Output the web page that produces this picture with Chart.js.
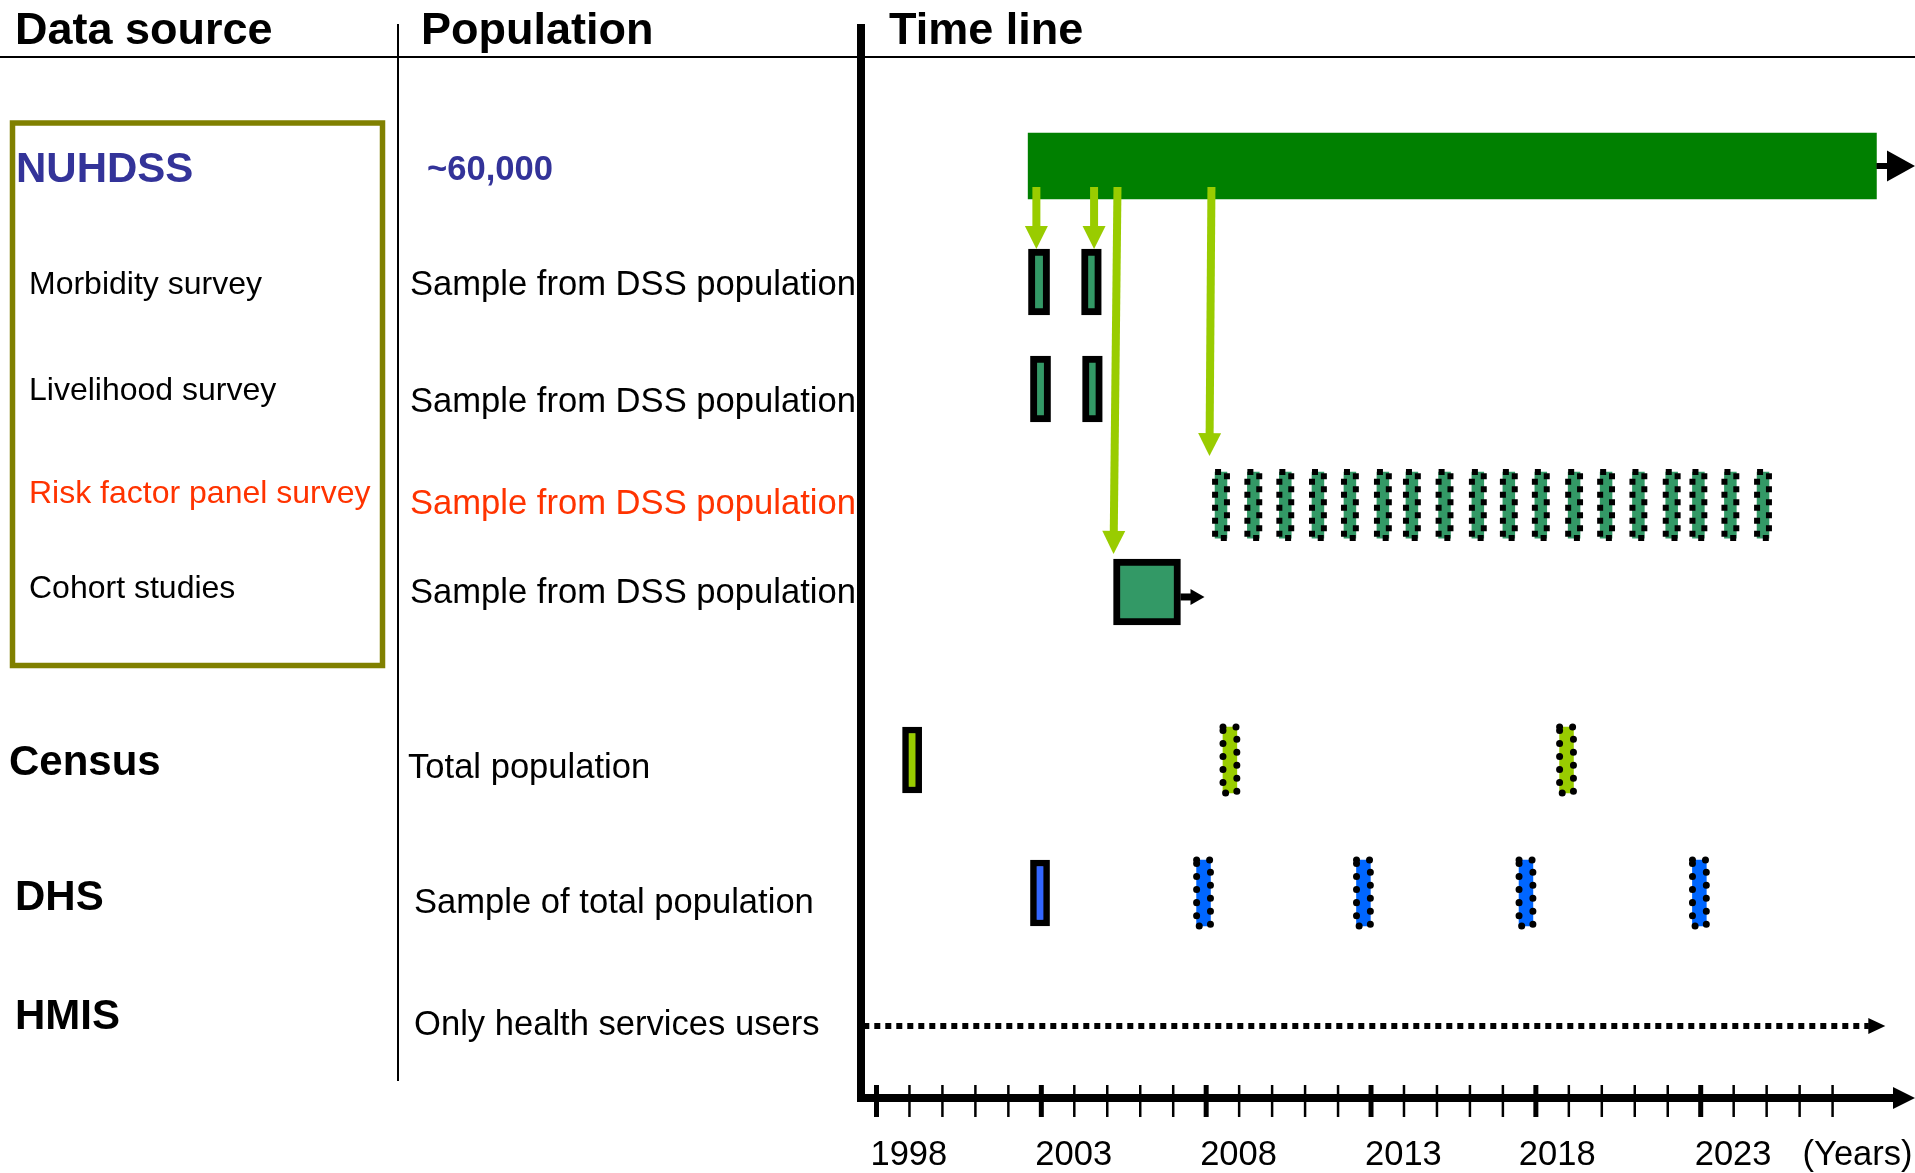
<!DOCTYPE html>
<html lang="en">
<head>
<meta charset="UTF-8">
<title>Data sources time line</title>
<script src="https://cdn.jsdelivr.net/npm/chart.js"></script>
<style>
  body { margin: 0; background: #ffffff; }
  #wrap { position: relative; width: 1915px; height: 1173px; }
</style>
</head>
<body>
<div id="wrap"><canvas id="timeline"></canvas></div>
<script>
// left columns, one entry per row
const sources = ['NUHDSS', 'Morbidity survey', 'Livelihood survey', 'Risk factor panel survey',
  'Cohort studies', 'Census', 'DHS', 'HMIS'];
const populations = ['~60,000', 'Sample from DSS population', 'Sample from DSS population',
  'Sample from DSS population', 'Sample from DSS population', 'Total population',
  'Sample of total population', 'Only health services users'];

// time line (years)
const nuhdssPeriod = [2002.6, 2028.33];
const morbidityRounds = [[2002.61, 2003.25], [2004.22, 2004.82]];
const livelihoodRounds = [[2002.67, 2003.28], [2004.25, 2004.85]];
const riskRounds = [2008.45, 2009.43, 2010.4, 2011.39, 2012.36, 2013.36, 2014.24, 2015.23, 2016.24,
  2017.18, 2018.15, 2019.16, 2020.13, 2021.11, 2022.12, 2022.93, 2023.9, 2024.89];
const cohortPeriod = [2005.19, 2007.22];
const cohortOngoing = 2007.95;
const censusYears = [1999.08, 2008.72, 2018.93];
const dhsYears = [2002.96, 2007.92, 2012.77, 2017.7, 2022.96];
const hmisPeriod = [1997.6, 2028.6];

// arrows from the DSS bar to the studies sampled from it
const linkFrom = [2002.85, 2004.6, 2005.31, 2008.16];
const linkTo = [2002.85, 2004.6, 2005.19, 2008.1];
const linkRow = [1, 1, 4, 3];

// axis
const tickYears = [1998, 2003, 2008, 2013, 2018, 2023];
const firstTick = 1998, lastTick = 2027;

// ---- layout / style ----
const ROW_POS = [1.047, 2.161, 3.189, 4.304, 5.139, 6.753, 8.031, 9.308];
const BAR_H = 66;
const TEXT_DY = 3;
const FONT = '"Liberation Sans", Arial, sans-serif';
const SRC_X = [16, 29, 29, 29, 29, 9, 15, 15];
const SRC_DY = [1, 0, -1, -14, -6, 0, 2, -12];
const SRC_FONT = ['bold 42px', '32px', '32px', '32px', '32px', 'bold 42px', 'bold 42px', 'bold 42px'];
const SRC_COLOR = ['#333399', '#000', '#000', '#FF3300', '#000', '#000', '#000', '#000'];
const POP_X = [427, 410, 410, 410, 410, 408, 414, 414];
const POP_DY = [1, 1, 10, -4, -2, 5, 7, -3];
const POP_FONT = ['bold 34.6px', '34.6px', '34.6px', '34.6px', '34.6px', '34.6px', '34.6px', '34.6px'];
const POP_COLOR = ['#333399', '#000', '#000', '#FF3300', '#000', '#000', '#000', '#000'];
const TICK_LABEL_DX = [-6, -6, -6, -6, -17, -6];
const LINK_GAP = [0, 0, 5, 16];

const span = (a, b, row) => ({ x: [a, b], y: ROW_POS[row] });
const around = (c, half, row) => ({ x: [c - half, c + half], y: ROW_POS[row] });
const boxed = { type: 'bar', indexAxis: 'y', borderColor: '#000', borderWidth: 7, borderSkipped: false };
const plain = { type: 'bar', indexAxis: 'y', borderWidth: 0 };

function arrow(ctx, x0, y0, x1, y1, lw, len, half, color) {
  const d = Math.hypot(x1 - x0, y1 - y0), ux = (x1 - x0) / d, uy = (y1 - y0) / d;
  const bx = x1 - ux * len, by = y1 - uy * len;
  ctx.strokeStyle = color; ctx.fillStyle = color; ctx.lineWidth = lw;
  if (d > len) {
    ctx.beginPath(); ctx.moveTo(x0, y0); ctx.lineTo(bx + ux, by + uy); ctx.stroke();
  }
  ctx.beginPath();
  ctx.moveTo(x1, y1);
  ctx.lineTo(bx - uy * half, by + ux * half);
  ctx.lineTo(bx + uy * half, by - ux * half);
  ctx.closePath(); ctx.fill();
}

const decor = {
  id: 'decor',
  beforeDraw(chart) {
    const { ctx, width, height } = chart;
    ctx.save(); ctx.fillStyle = '#fff'; ctx.fillRect(0, 0, width, height); ctx.restore();
  },
  afterDatasetsDraw(chart) {
    const { ctx, chartArea: area, scales: { x: xs, y: ys } } = chart;
    ctx.save();

    // dotted outlines of planned rounds
    chart.data.datasets.forEach((ds, i) => {
      if (!ds.dots) return;
      chart.getDatasetMeta(i).data.forEach(el => {
        const p = el.getProps(['x', 'y', 'base', 'height'], true);
        const l = Math.min(p.x, p.base), w = Math.abs(p.x - p.base);
        ctx.strokeStyle = '#000';
        if (ds.dots === 'round') { ctx.lineWidth = 7; ctx.lineCap = 'round'; ctx.setLineDash([0.01, 13]); }
        else { ctx.lineWidth = 6; ctx.lineCap = 'butt'; ctx.setLineDash([6, 7]); }
        ctx.strokeRect(l, p.y - p.height / 2, w, p.height);
      });
    });
    ctx.setLineDash([]); ctx.lineCap = 'butt';

    // DSS bar continues, cohort continues
    const dss = chart.getDatasetMeta(0).data[0];
    arrow(ctx, dss.x, dss.y, area.right, dss.y, 6, 28, 15.5, '#000');
    const coh = chart.getDatasetMeta(2).data[0];
    arrow(ctx, coh.x, coh.y + 5, xs.getPixelForValue(cohortOngoing), coh.y + 5, 7, 14, 8, '#000');

    // links
    const yStart = ys.getPixelForValue(ROW_POS[0]) + 21;
    linkFrom.forEach((from, i) => {
      const y1 = ys.getPixelForValue(ROW_POS[linkRow[i]]) - BAR_H / 2 - LINK_GAP[i];
      arrow(ctx, xs.getPixelForValue(from), yStart, xs.getPixelForValue(linkTo[i]), y1, 8, 23, 11.5, '#99CC00');
    });

    // HMIS arrow head
    const yh = ys.getPixelForValue(ROW_POS[7]);
    arrow(ctx, xs.getPixelForValue(hmisPeriod[1] - 0.5), yh, xs.getPixelForValue(hmisPeriod[1]), yh, 6, 17, 8, '#000');

    // time axis
    const axisY = area.bottom;
    ctx.strokeStyle = '#000'; ctx.lineWidth = 8;
    ctx.beginPath(); ctx.moveTo(area.left - 3, axisY); ctx.lineTo(area.right - 20, axisY); ctx.stroke();
    arrow(ctx, area.right - 22, axisY, area.right, axisY, 8, 22, 11, '#000');
    ctx.beginPath(); ctx.moveTo(area.left + 1, 24); ctx.lineTo(area.left + 1, axisY + 4); ctx.stroke();
    for (let yr = firstTick; yr <= lastTick; yr++) {
      const x = xs.getPixelForValue(yr);
      ctx.lineWidth = tickYears.includes(yr) ? 5 : 2.5;
      ctx.beginPath(); ctx.moveTo(x, axisY - 13); ctx.lineTo(x, axisY + 19); ctx.stroke();
    }
    ctx.fillStyle = '#000'; ctx.font = '34.5px ' + FONT;
    ctx.textAlign = 'left'; ctx.textBaseline = 'middle';
    tickYears.forEach((yr, i) => ctx.fillText(String(yr), xs.getPixelForValue(yr) + TICK_LABEL_DX[i], axisY + 54 + TEXT_DY));
    ctx.fillText('(Years)', xs.getPixelForValue(lastTick) - 30, axisY + 54 + TEXT_DY);

    // headers and frame lines
    ctx.font = 'bold 45px ' + FONT;
    ctx.fillText('Data source', 15, 28 + TEXT_DY + 1);
    ctx.fillText('Population', 421, 28 + TEXT_DY + 1);
    ctx.fillText('Time line', 889, 28 + TEXT_DY + 1);
    ctx.lineWidth = 2;
    ctx.beginPath(); ctx.moveTo(0, area.top); ctx.lineTo(chart.width, area.top); ctx.stroke();
    ctx.beginPath(); ctx.moveTo(398, 24); ctx.lineTo(398, 1081); ctx.stroke();

    // NUHDSS group box
    ctx.strokeStyle = '#808000'; ctx.lineWidth = 5.5;
    ctx.strokeRect(12.5, 123, 370, 542.5);

    // row labels
    sources.forEach((s, i) => {
      const y = ys.getPixelForValue(ROW_POS[i]) + TEXT_DY;
      ctx.font = SRC_FONT[i] + ' ' + FONT; ctx.fillStyle = SRC_COLOR[i];
      ctx.fillText(s, SRC_X[i], y + SRC_DY[i]);
      ctx.font = POP_FONT[i] + ' ' + FONT; ctx.fillStyle = POP_COLOR[i];
      ctx.fillText(populations[i], POP_X[i], y + POP_DY[i]);
    });
    ctx.restore();
  }
};

new Chart(document.getElementById('timeline'), {
  type: 'bar',
  data: {
    datasets: [
      { ...plain, data: [span(nuhdssPeriod[0], nuhdssPeriod[1], 0)], backgroundColor: '#008000' },
      { ...boxed, data: morbidityRounds.map(r => span(r[0], r[1], 1))
          .concat(livelihoodRounds.map(r => span(r[0], r[1], 2))), backgroundColor: '#339966' },
      { ...boxed, data: [span(cohortPeriod[0], cohortPeriod[1], 4)], backgroundColor: '#339966' },
      { ...boxed, borderWidth: 6.5, data: [around(censusYears[0], 0.29, 5)], backgroundColor: '#99CC00' },
      { ...boxed, borderWidth: 6.5, data: [around(dhsYears[0], 0.29, 6)], backgroundColor: '#3366FF' },
      { ...plain, dots: 'square', data: riskRounds.map(c => around(c, 0.18, 3)), backgroundColor: '#339966' },
      { ...plain, dots: 'round', data: censusYears.slice(1).map(c => around(c, 0.21, 5)), backgroundColor: '#99CC00' },
      { ...plain, dots: 'round', data: dhsYears.slice(1).map(c => around(c, 0.21, 6)), backgroundColor: '#0066FF' },
      { type: 'line', data: [{ x: hmisPeriod[0], y: ROW_POS[7] }, { x: hmisPeriod[1] - 0.5, y: ROW_POS[7] }],
        borderColor: '#000', borderWidth: 6, borderDash: [6, 5], pointRadius: 0, fill: false }
    ]
  },
  options: {
    responsive: true,
    maintainAspectRatio: false,
    devicePixelRatio: 1,
    animation: false,
    events: [],
    layout: { padding: { left: 860, right: 0, top: 57, bottom: 75 } },
    datasets: { bar: { grouped: false, barThickness: BAR_H, maxBarThickness: BAR_H } },
    scales: {
      x: { type: 'linear', min: 1997.5, max: 2029.5, display: false, offset: false },
      y: { type: 'linear', min: 0, max: 10, reverse: true, display: false, offset: false, ticks: { stepSize: 1 } }
    },
    plugins: { legend: { display: false }, tooltip: { enabled: false } }
  },
  plugins: [decor]
});
</script>
</body>
</html>
